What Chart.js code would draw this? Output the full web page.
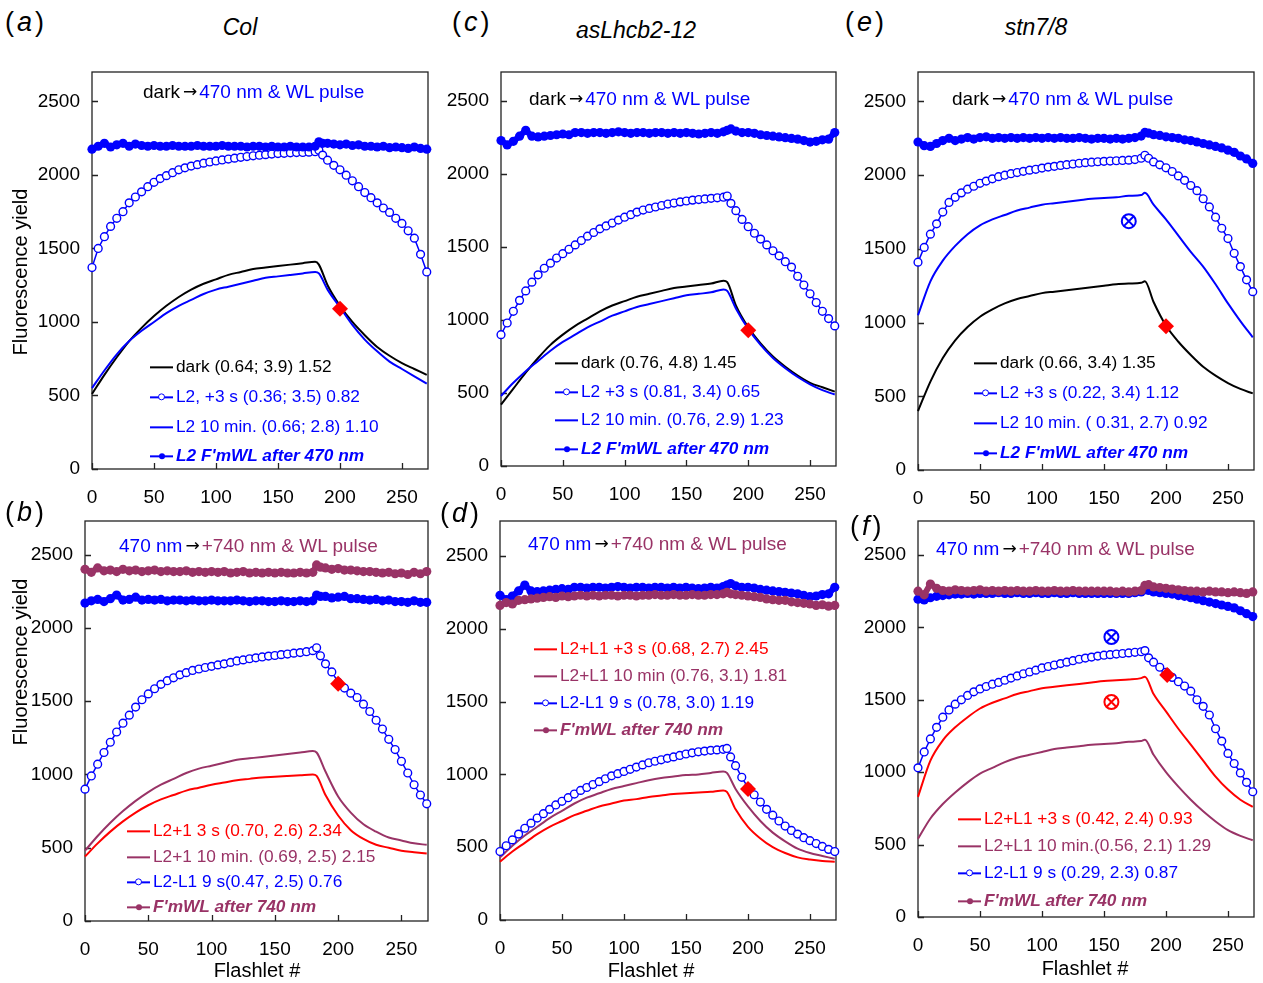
<!DOCTYPE html>
<html lang="en">
<head>
<meta charset="UTF-8">
<title>Fluorescence yield vs flashlet</title>
<script src="https://cdn.jsdelivr.net/npm/chart.js"></script>
<style>
    body { margin: 0; background: #fff; font-family: 'Liberation Sans', Arial, sans-serif; color: #000; }
    #page { position: relative; width: 1263px; height: 983px; overflow: hidden; }
    canvas { position: absolute; }
    .t { position: absolute; white-space: nowrap; line-height: 1; transform: translateY(-50%); }
    .plab { font-size: 27px; letter-spacing: 3px; }
    .plab i { font-style: italic; }
    .ttl { font-size: 23px; font-style: italic; transform: translate(-50%, -50%); }
    .ann { font-size: 19px; }
    .arr { font-family: 'DejaVu Sans', sans-serif; font-size: 17px; position: relative; top: -1px; padding: 0 2px 0 3px; }
    .axt { font-size: 20px; transform: translate(-50%, -50%); }
    .axt.rot { transform: translate(-50%, -50%) rotate(-90deg); }
    .leg { position: absolute; white-space: nowrap; font-size: 17.3px; line-height: 1; transform: translateY(-50%); display: flex; align-items: center; }
    .leg.bi { font-weight: bold; font-style: italic; }
    .smp { position: relative; display: inline-block; width: 23px; height: 2px; margin-right: 3px; background: currentColor; }
    .smp.open::after { content: ''; position: absolute; left: 8px; top: -2.5px; width: 7px; height: 7px; box-sizing: border-box; border: 1.3px solid currentColor; border-radius: 50%; background: #fff; }
    .smp.dot::after { content: ''; position: absolute; left: 8.5px; top: -2px; width: 6px; height: 6px; border-radius: 50%; background: currentColor; }
    .k { color: #000; } .b { color: #0000ff; } .r { color: #ff0000; } .p { color: #993366; }
</style>
</head>
<body>
<div id="page">
    <canvas id="chA" width="436" height="447" style="left:0;top:62px"></canvas>
    <canvas id="chC" width="404" height="444" style="left:440px;top:62px"></canvas>
    <canvas id="chE" width="403" height="448" style="left:860px;top:62px"></canvas>
    <canvas id="chB" width="436" height="450" style="left:0;top:511px"></canvas>
    <canvas id="chD" width="404" height="449" style="left:440px;top:511px"></canvas>
    <canvas id="chF" width="403" height="446" style="left:860px;top:511px"></canvas>

    <div class="t plab" style="left:5px;top:22px">(<i>a</i>)</div>
    <div class="t plab" style="left:452px;top:22px">(<i>c</i>)</div>
    <div class="t plab" style="left:845px;top:22px">(<i>e</i>)</div>
    <div class="t plab" style="left:5px;top:512px">(<i>b</i>)</div>
    <div class="t plab" style="left:440px;top:513px">(<i>d</i>)</div>
    <div class="t plab" style="left:850px;top:526px">(<i>f</i>)</div>

    <div class="t ttl" style="left:240px;top:27px">Col</div>
    <div class="t ttl" style="left:636px;top:30px">asLhcb2-12</div>
    <div class="t ttl" style="left:1036px;top:27px">stn7/8</div>

    <div class="t axt rot" style="left:20px;top:272px">Fluorescence yield</div>
    <div class="t axt rot" style="left:20px;top:662px">Fluorescence yield</div>
    <div class="t axt" style="left:257px;top:970px">Flashlet #</div>
    <div class="t axt" style="left:651px;top:970px">Flashlet #</div>
    <div class="t axt" style="left:1085px;top:968px">Flashlet #</div>

    <div class="t ann" style="left:143px;top:91px"><span class="k">dark<span class="arr">→</span></span><span class="b">470 nm &amp; WL pulse</span></div>
    <div class="t ann" style="left:529px;top:98px"><span class="k">dark<span class="arr">→</span></span><span class="b">470 nm &amp; WL pulse</span></div>
    <div class="t ann" style="left:952px;top:98px"><span class="k">dark<span class="arr">→</span></span><span class="b">470 nm &amp; WL pulse</span></div>
    <div class="t ann" style="left:119px;top:545px"><span class="b">470 nm</span><span class="k arr">→</span><span class="p">+740 nm &amp; WL pulse</span></div>
    <div class="t ann" style="left:528px;top:543px"><span class="b">470 nm</span><span class="k arr">→</span><span class="p">+740 nm &amp; WL pulse</span></div>
    <div class="t ann" style="left:936px;top:548px"><span class="b">470 nm</span><span class="k arr">→</span><span class="p">+740 nm &amp; WL pulse</span></div>

    <!-- legends -->
    <div class="leg k" style="left:150px;top:367px"><span class="smp"></span>dark (0.64; 3.9) 1.52</div>
    <div class="leg b" style="left:150px;top:397px"><span class="smp open"></span>L2, +3 s (0.36; 3.5) 0.82</div>
    <div class="leg b" style="left:150px;top:427px"><span class="smp"></span>L2 10 min. (0.66; 2.8) 1.10</div>
    <div class="leg b bi" style="left:150px;top:456px"><span class="smp dot"></span>L2 F'mWL after 470 nm</div>

    <div class="leg r" style="left:127px;top:831px"><span class="smp"></span>L2+1 3 s (0.70, 2.6) 2.34</div>
    <div class="leg p" style="left:127px;top:857px"><span class="smp"></span>L2+1 10 min. (0.69, 2.5) 2.15</div>
    <div class="leg b" style="left:127px;top:882px"><span class="smp open"></span>L2-L1 9 s(0.47, 2.5) 0.76</div>
    <div class="leg p bi" style="left:127px;top:907px"><span class="smp dot"></span>F'mWL after 740 nm</div>

    <div class="leg k" style="left:555px;top:363px"><span class="smp"></span>dark (0.76, 4.8) 1.45</div>
    <div class="leg b" style="left:555px;top:392px"><span class="smp open"></span>L2 +3 s (0.81, 3.4) 0.65</div>
    <div class="leg b" style="left:555px;top:420px"><span class="smp"></span>L2 10 min. (0.76, 2.9) 1.23</div>
    <div class="leg b bi" style="left:555px;top:449px"><span class="smp dot"></span>L2 F'mWL after 470 nm</div>

    <div class="leg r" style="left:534px;top:649px"><span class="smp"></span>L2+L1 +3 s (0.68, 2.7) 2.45</div>
    <div class="leg p" style="left:534px;top:676px"><span class="smp"></span>L2+L1 10 min (0.76, 3.1) 1.81</div>
    <div class="leg b" style="left:534px;top:703px"><span class="smp open"></span>L2-L1 9 s (0.78, 3.0) 1.19</div>
    <div class="leg p bi" style="left:534px;top:730px"><span class="smp dot"></span>F'mWL after 740 nm</div>

    <div class="leg k" style="left:974px;top:363px"><span class="smp"></span>dark (0.66, 3.4) 1.35</div>
    <div class="leg b" style="left:974px;top:393px"><span class="smp open"></span>L2 +3 s (0.22, 3.4) 1.12</div>
    <div class="leg b" style="left:974px;top:423px"><span class="smp"></span>L2 10 min. ( 0.31, 2.7) 0.92</div>
    <div class="leg b bi" style="left:974px;top:453px"><span class="smp dot"></span>L2 F'mWL after 470 nm</div>

    <div class="leg r" style="left:958px;top:819px"><span class="smp"></span>L2+L1 +3 s (0.42, 2.4) 0.93</div>
    <div class="leg p" style="left:958px;top:846px"><span class="smp"></span>L2+L1 10 min.(0.56, 2.1) 1.29</div>
    <div class="leg b" style="left:958px;top:873px"><span class="smp open"></span>L2-L1 9 s (0.29, 2.3) 0.87</div>
    <div class="leg p bi" style="left:958px;top:901px"><span class="smp dot"></span>F'mWL after 740 nm</div>
</div>

<script>
    // axis ticks
    const yTicks = [0, 500, 1000, 1500, 2000, 2500];
    const xTicks = [0, 50, 100, 150, 200, 250];

    const flashlets = [0,10,20,30,40,50,60,70,80,90,100,110,120,130,140,150,160,170,180,183,190,200,210,220,230,240,250,260,270];
    const flashDense = [0,5,10,15,20,25,30,35,40,45,50,55,60,65,70,75,80,85,90,95,100,105,110,115,120,125,130,135,140,145,150,155,160,165,170,175,180,183,186,
                        190,195,200,205,210,215,220,225,230,235,240,245,250,255,260,265,270];

    // (a) Col, dark -> 470 nm
    const aFmwl470 = [2175,2195,2215,2190,2205,2215,2195,2210,2200,2195, 2200,2195,2195,2200,2195,2195,2195,2200,2195,2195,
                      2195,2200,2195,2195,2195,2190,2195,2195,2190,2195, 2190,2190,2195,2190,2190,2190,2195, 2225,2215,
                      2215,2210,2205,2210,2200,2205,2195,2195,2190,2195,2185,2190,2185,2180,2190,2180,2175];
    const aL2s3    = [1370,1500,1580,1650,1705,1750,1810,1850,1885,1920, 1950,1975,1995,2015,2035,2048,2060,2070,2080,2088,
                      2095,2102,2108,2114,2120,2125,2130,2134,2138,2142, 2145,2147,2150,2152,2153,2155,2158, 2168,2135,
                      2100,2065,2035,1998,1960,1920,1880,1845,1810,1775,1745,1705,1670,1620,1570,1460,1340];
    const aDark    = [510,640,760,870,960,1040,1110,1170,1220,1260,1290,1320,1340,1360,1370,1380,1390,1400,1410,1390,1250,1110,1000,910,830,770,720,680,640];
    const aL2m10   = [550,670,780,870,940,1000,1060,1110,1150,1190,1220,1240,1260,1280,1300,1310,1320,1330,1340,1330,1220,1100,980,880,800,730,680,630,580];
    const aMarkX = [200], aMarkY = [1090];

    // (b) Col, 470 nm -> +740 nm
    const bFmwl470 = [2170,2185,2195,2180,2200,2225,2190,2195,2210,2190, 2195,2190,2195,2185,2190,2190,2185,2190,2185,2185,
                      2190,2185,2185,2185,2190,2185,2180,2185,2185,2180, 2180,2185,2180,2180,2185,2180,2185, 2225,2215,
                      2215,2205,2210,2215,2200,2200,2195,2190,2195,2185,2190,2180,2180,2175,2185,2175,2175];
    const bFmwl740 = [2400,2380,2410,2390,2395,2385,2400,2390,2395,2385, 2390,2395,2385,2390,2385,2385,2390,2380,2385,2380,
                      2385,2380,2385,2375,2380,2385,2375,2380,2375,2380, 2375,2380,2375,2375,2380,2375,2380, 2430,2415,
                      2410,2400,2405,2395,2395,2390,2385,2385,2380,2375,2380,2370,2375,2365,2380,2370,2385];
    const bL2L1s9  = [900,990,1070,1150,1220,1290,1350,1405,1460,1510, 1550,1585,1615,1640,1660,1680,1695,1710,1720,1730,
                      1738,1748,1755,1765,1775,1782,1790,1796,1802,1808, 1812,1818,1822,1828,1832,1838,1845, 1865,1810,
                      1755,1700,1630,1590,1555,1525,1480,1430,1370,1310,1240,1170,1090,1010,930,860,800];
    const bL2L1m10 = [480,580,670,750,820,880,930,970,1010,1040,1060,1080,1100,1110,1120,1130,1140,1150,1160,1150,1020,850,740,660,610,570,550,530,520];
    const bL2L1s3  = [440,530,610,680,740,790,830,860,890,910,930,945,960,970,980,985,990,995,1000,990,860,720,620,560,520,500,480,470,460];
    const bMarkX = [200], bMarkY = [1620];

    // (c) asLhcb2-12, dark -> 470 nm
    const cFmwl470 = [2230,2200,2225,2260,2300,2260,2255,2260,2265,2270, 2275,2270,2285,2285,2280,2285,2285,2280,2285,2290,
                      2285,2280,2285,2285,2280,2285,2285,2280,2285,2280, 2285,2280,2275,2280,2285,2280,2290, 2300,2310,
                      2295,2285,2285,2280,2270,2265,2260,2255,2250,2245,2240,2230,2220,2225,2235,2240,2285];
    const cL2s3    = [900,980,1060,1135,1200,1260,1310,1355,1390,1425, 1455,1485,1515,1545,1575,1600,1625,1645,1665,1685,
                      1705,1722,1740,1754,1765,1775,1785,1795,1802,1810, 1816,1822,1826,1830,1834,1838,1842, 1850,1800,
                      1750,1690,1640,1595,1555,1515,1475,1440,1400,1363,1300,1240,1180,1120,1060,1010,960];
    const cDark    = [420,530,640,740,830,900,960,1010,1060,1100,1130,1160,1180,1200,1220,1230,1240,1250,1270,1260,1100,950,840,750,680,620,570,540,510];
    const cL2m10   = [480,570,650,720,790,850,900,950,990,1030,1060,1090,1110,1130,1150,1170,1180,1190,1210,1200,1080,940,830,740,670,610,560,520,490];
    const cMarkX = [200], cMarkY = [930];

    // (d) asLhcb2-12, 470 nm -> +740 nm
    const dFmwl470 = [2230,2200,2225,2260,2300,2260,2255,2260,2265,2270, 2275,2270,2285,2285,2280,2285,2285,2280,2285,2290,
                      2285,2280,2285,2285,2280,2285,2285,2280,2285,2280, 2285,2280,2275,2280,2285,2280,2290, 2300,2310,
                      2295,2285,2285,2280,2270,2265,2260,2255,2250,2245,2240,2230,2220,2225,2235,2240,2285];
    const dFmwl740 = [2160,2180,2170,2195,2200,2205,2210,2215,2220,2215, 2225,2220,2225,2230,2225,2230,2225,2230,2230,2225,
                      2230,2230,2225,2230,2230,2235,2230,2230,2235,2230, 2230,2235,2230,2230,2235,2235,2240, 2250,2240,
                      2235,2230,2225,2220,2215,2205,2200,2195,2195,2185,2180,2175,2170,2160,2165,2155,2160];
    const dL2L1s9  = [470,510,550,590,630,665,700,730,760,790, 815,840,865,890,910,930,950,970,990,1005,
                      1020,1035,1050,1065,1080,1090,1100,1110,1120,1130, 1140,1148,1155,1160,1165,1168,1172, 1178,1120,
                      1060,980,910,860,810,760,720,680,645,615,590,565,545,525,505,485,470];
    const dL2L1m10 = [430,510,580,640,700,750,800,840,870,900,920,940,960,975,985,995,1000,1010,1020,1010,900,780,680,600,540,490,460,440,420];
    const dL2L1s3  = [400,470,530,590,640,680,720,750,780,800,820,830,845,855,865,870,875,880,890,880,760,640,560,500,460,430,415,405,400];
    const dMarkX = [200], dMarkY = [900];

    // (e) stn7/8, dark -> 470 nm
    const eFmwl470 = [2225,2200,2195,2215,2235,2250,2235,2245,2255,2245, 2255,2260,2250,2255,2250,2255,2250,2255,2250,2255,
                      2250,2255,2250,2255,2250,2250,2255,2250,2245,2250, 2250,2245,2250,2245,2250,2255,2265, 2290,2285,
                      2275,2270,2260,2255,2250,2240,2235,2225,2215,2205,2195,2185,2170,2155,2130,2110,2080];
    const eL2s3    = [1410,1510,1600,1670,1750,1815,1850,1880,1905,1925, 1945,1960,1975,1990,2000,2010,2018,2026,2034,2040,
                      2048,2055,2060,2066,2071,2076,2081,2085,2088,2091, 2094,2096,2098,2100,2102,2106,2115, 2135,2115,
                      2090,2070,2050,2025,1995,1965,1930,1895,1840,1785,1715,1640,1570,1470,1380,1290,1210];
    const eL2m10   = [1050,1280,1420,1520,1600,1660,1700,1730,1760,1780,1800,1810,1820,1830,1840,1845,1850,1860,1865,1880,1800,1700,1590,1480,1380,1260,1130,1010,900];
    const eDark    = [400,600,760,880,970,1040,1090,1130,1160,1180,1200,1210,1220,1230,1240,1250,1260,1265,1270,1280,1140,980,870,780,700,640,590,550,520];
    const eMarkX = [200], eMarkY = [976];
    const eCrossX = [170], eCrossY = [1688];

    // (f) stn7/8, 470 nm -> +740 nm
    const fFmwl470 = [2195,2190,2205,2215,2220,2225,2230,2230,2235,2230, 2235,2235,2235,2240,2235,2235,2240,2235,2235,2240,
                      2235,2235,2240,2235,2235,2240,2235,2235,2235,2235, 2235,2235,2235,2235,2235,2240,2245, 2260,2255,
                      2245,2240,2235,2230,2220,2215,2205,2195,2185,2175,2165,2155,2145,2135,2115,2095,2075];
    const fFmwl740 = [2250,2225,2300,2270,2255,2250,2260,2255,2250,2255, 2260,2250,2255,2250,2255,2250,2255,2250,2250,2255,
                      2250,2250,2255,2250,2250,2255,2250,2250,2250,2250, 2250,2250,2245,2250,2245,2250,2255, 2290,2295,
                      2280,2275,2270,2265,2260,2255,2250,2250,2245,2250,2245,2245,2240,2245,2240,2235,2245];
    const fL2L1s9  = [1030,1140,1230,1310,1380,1430,1470,1500,1530,1555, 1575,1592,1608,1620,1635,1650,1665,1680,1692,1705,
                      1720,1730,1740,1750,1760,1770,1780,1788,1795,1802, 1808,1812,1816,1820,1824,1828,1832, 1840,1790,
                      1760,1725,1690,1655,1625,1595,1560,1500,1455,1395,1300,1215,1130,1060,995,930,865];
    const fL2L1s3  = [830,1080,1220,1310,1380,1440,1480,1510,1540,1560,1580,1590,1600,1610,1620,1630,1635,1640,1650,1660,1540,1420,1300,1190,1080,970,880,810,760];
    const fL2L1m10 = [540,680,780,860,930,990,1030,1070,1100,1120,1140,1160,1170,1180,1190,1195,1200,1210,1215,1225,1120,1000,900,810,730,660,600,560,530];
    const fMarkX = [201], fMarkY = [1671];
    const fCrossBX = [156], fCrossBY = [1934];
    const fCrossRX = [156], fCrossRY = [1485];

    const BLUE = '#0000ff', RED = '#ff0000', PURPLE = '#993366', BLACK = '#000000';

    Chart.defaults.font.family = "'Liberation Sans', Arial, sans-serif";
    Chart.defaults.color = '#000';

    function pts(xs, ys) {
        return ys.map((y, i) => ({ x: xs[i], y: y }));
    }

    function lineSet(ys, color) {
        return { data: pts(flashlets, ys), borderColor: color, borderWidth: 2, pointRadius: 0,
                 cubicInterpolationMode: 'monotone', clip: 8 };
    }
    function openSet(ys, color) {
        return { data: pts(flashDense, ys), borderColor: color, borderWidth: 1.5, pointRadius: 3.9,
                 pointBackgroundColor: '#fff', pointBorderColor: color, pointBorderWidth: 1.4, clip: 8 };
    }
    function dotSet(ys, color) {
        return { data: pts(flashDense, ys), borderColor: color, borderWidth: 6, pointRadius: 4.6,
                 pointBackgroundColor: color, pointBorderColor: color, pointBorderWidth: 0, clip: 8 };
    }
    function diamondSet(xs, ys) {
        return { data: pts(xs, ys), showLine: false, pointStyle: 'rectRot', pointRadius: 8,
                 pointBackgroundColor: RED, pointBorderColor: RED, pointBorderWidth: 0, clip: 8 };
    }
    function crossSets(xs, ys, color) {
        return [
            { data: pts(xs, ys), showLine: false, pointStyle: 'circle', pointRadius: 7,
              pointBackgroundColor: 'rgba(0,0,0,0)', pointBorderColor: color, pointBorderWidth: 2 },
            { data: pts(xs, ys), showLine: false, pointStyle: 'crossRot', pointRadius: 7,
              pointBorderColor: color, pointBorderWidth: 2 }
        ];
    }

    // box around the plot and inward tick marks
    const frame = {
        id: 'frame',
        beforeDatasetsDraw(chart) {
            const { ctx, chartArea: a, scales } = chart;
            ctx.save();
            ctx.strokeStyle = '#222';
            ctx.lineWidth = 1.3;
            ctx.strokeRect(a.left, a.top, a.right - a.left, a.bottom - a.top);
            ctx.beginPath();
            scales.y.ticks.forEach(t => {
                const y = Math.round(scales.y.getPixelForValue(t.value)) + 0.5;
                ctx.moveTo(a.left, y); ctx.lineTo(a.left + 6, y);
            });
            scales.x.ticks.forEach(t => {
                const x = Math.round(scales.x.getPixelForValue(t.value)) + 0.5;
                ctx.moveTo(x, a.bottom); ctx.lineTo(x, a.bottom - 6);
            });
            ctx.stroke();
            ctx.restore();
        }
    };

    function buildChart(id, yAxisWidth, yMax, sets) {
        new Chart(document.getElementById(id), {
            type: 'line',
            data: { datasets: sets },
            options: {
                responsive: false,
                animation: false,
                events: [],
                layout: { padding: { top: 10, right: 4, left: 0, bottom: 0 } },
                plugins: { legend: { display: false }, tooltip: { enabled: false } },
                scales: {
                    x: {
                        type: 'linear', min: 0, max: 271,
                        ticks: { font: { size: 19 }, padding: 17, maxRotation: 0, callback: v => String(v) },
                        grid: { display: false, drawTicks: false },
                        border: { display: false },
                        afterBuildTicks: s => { s.ticks = xTicks.map(v => ({ value: v })); },
                        afterFit: s => { s.height = 40; s.paddingLeft = 0; s.paddingRight = 0; }
                    },
                    y: {
                        type: 'linear', min: 0, max: yMax,
                        ticks: { font: { size: 19 }, padding: 12, callback: v => String(v) },
                        grid: { display: false, drawTicks: false },
                        border: { display: false },
                        afterBuildTicks: s => { s.ticks = yTicks.map(v => ({ value: v })); },
                        afterFit: s => { s.width = yAxisWidth; s.paddingTop = 0; s.paddingBottom = 0; }
                    }
                }
            },
            plugins: [frame]
        });
    }

    buildChart('chA', 92, 2700, [
        diamondSet(aMarkX, aMarkY),
        dotSet(aFmwl470, BLUE),
        openSet(aL2s3, BLUE),
        lineSet(aL2m10, BLUE),
        lineSet(aDark, BLACK)
    ]);

    buildChart('chB', 85, 2730, [
        diamondSet(bMarkX, bMarkY),
        openSet(bL2L1s9, BLUE),
        lineSet(bL2L1s3, RED),
        lineSet(bL2L1m10, PURPLE),
        dotSet(bFmwl740, PURPLE),
        dotSet(bFmwl470, BLUE)
    ]);

    buildChart('chC', 61, 2700, [
        diamondSet(cMarkX, cMarkY),
        dotSet(cFmwl470, BLUE),
        openSet(cL2s3, BLUE),
        lineSet(cL2m10, BLUE),
        lineSet(cDark, BLACK)
    ]);

    buildChart('chD', 60, 2740, [
        diamondSet(dMarkX, dMarkY),
        openSet(dL2L1s9, BLUE),
        lineSet(dL2L1s3, RED),
        lineSet(dL2L1m10, PURPLE),
        dotSet(dFmwl740, PURPLE),
        dotSet(dFmwl470, BLUE)
    ]);

    buildChart('chE', 58, 2700, [
        diamondSet(eMarkX, eMarkY),
        ...crossSets(eCrossX, eCrossY, BLUE),
        dotSet(eFmwl470, BLUE),
        openSet(eL2s3, BLUE),
        lineSet(eL2m10, BLUE),
        lineSet(eDark, BLACK)
    ]);

    buildChart('chF', 58, 2735, [
        diamondSet(fMarkX, fMarkY),
        ...crossSets(fCrossBX, fCrossBY, BLUE),
        ...crossSets(fCrossRX, fCrossRY, RED),
        openSet(fL2L1s9, BLUE),
        lineSet(fL2L1s3, RED),
        lineSet(fL2L1m10, PURPLE),
        dotSet(fFmwl740, PURPLE),
        dotSet(fFmwl470, BLUE)
    ]);
</script>
</body>
</html>
